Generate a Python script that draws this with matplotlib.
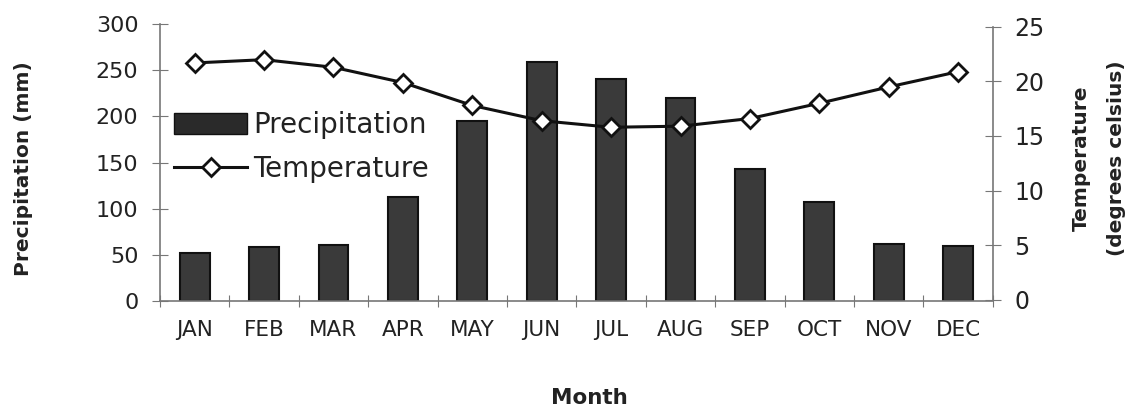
import matplotlib
matplotlib.use("Agg")
import matplotlib.pyplot as plt
from matplotlib.lines import Line2D
from matplotlib.patches import Patch
import numpy as np

months = ["JAN", "FEB", "MAR", "APR", "MAY", "JUN", "JUL", "AUG", "SEP", "OCT", "NOV", "DEC"]
precipitation = [52, 58, 61, 113, 195, 259, 240, 220, 143, 107, 62, 60]
temperature = [21.7, 22.0, 21.3, 19.9, 17.8, 16.4, 15.8, 15.9, 16.6, 18.0, 19.5, 20.9]

plt.rcParams['font.family'] = ['DejaVu Sans']

fig = plt.figure(figsize=(11.32, 4.12), dpi=100)
ax = fig.add_axes([0.1413, 0.2694, 0.7358, 0.6723])
x = np.arange(len(months))

spine_col = "#777777"
txt_col = "#222222"
ax.bar(x, precipitation, width=0.43, color="#3a3a3a", edgecolor="#111111", linewidth=1.5, zorder=2)
ax.set_xlim(-0.5, 11.5)
ax.set_ylim(0, 300)
ax.set_yticks(range(0, 301, 50))
ax.set_xticks(np.arange(-0.5, 12, 1), minor=False)
ax.set_xticklabels([])
ax.set_xticks(x, minor=True)
ax.set_xticklabels(months, minor=True, fontsize=15.5, color=txt_col)
ax.tick_params(axis='x', which='minor', length=0, pad=14)
ax.tick_params(axis='x', which='major', direction='inout', length=9, color=spine_col)
ax.tick_params(axis='y', direction='inout', length=11, color=spine_col, labelsize=16, labelcolor=txt_col, pad=10)
for s in ["top", "right"]:
    ax.spines[s].set_visible(False)
for s in ["left", "bottom"]:
    ax.spines[s].set_color(spine_col)
    ax.spines[s].set_linewidth(1.2)
ax.set_ylabel("Precipitation (mm)", fontsize=14.5, fontweight="bold", color=txt_col)
ax.yaxis.set_label_coords(-0.1525, 0.477)
ax.set_xlabel("Month", fontsize=15.5, fontweight="bold", color=txt_col)
ax.xaxis.set_label_coords(0.515, -0.314)

ax2 = ax.twinx()
ax2.plot(x, temperature, color="#111111", linewidth=2.2, marker="D", markersize=9,
         markerfacecolor="white", markeredgecolor="#111111", markeredgewidth=2, zorder=3)
ax2.set_ylim(-0.135, 25.27)
ax2.set_yticks(range(0, 26, 5))
ax2.spines["right"].set_bounds(0, 25)
ax2.spines["right"].set_color(spine_col)
ax2.spines["right"].set_linewidth(1.2)
for s in ["top", "left", "bottom"]:
    ax2.spines[s].set_visible(False)
ax2.tick_params(axis='y', direction='inout', length=11, color=spine_col, labelsize=17, labelcolor=txt_col, pad=10)
ax2.set_ylabel("Temperature\n(degrees celsius)", fontsize=14.5, fontweight="bold", color=txt_col,
               linespacing=2.1)
ax2.yaxis.set_label_coords(1.0948, 0.514)

handles = [Patch(facecolor="#2a2a2a", edgecolor="#111111", label="Precipitation"),
           Line2D([0], [0], color="#111111", linewidth=2.2, marker="D", markersize=9,
                  markerfacecolor="white", markeredgecolor="#111111", markeredgewidth=2, label="Temperature")]
leg = ax2.legend(handles=handles, loc="upper left", bbox_to_anchor=(-0.006, 0.756), frameon=False,
                 fontsize=20, handlelength=2.6, handleheight=0.75, handletextpad=0.25,
                 labelspacing=0.57, borderaxespad=0.3)
for t in leg.get_texts():
    t.set_color(txt_col)

fig.savefig("out.png", dpi=100)
